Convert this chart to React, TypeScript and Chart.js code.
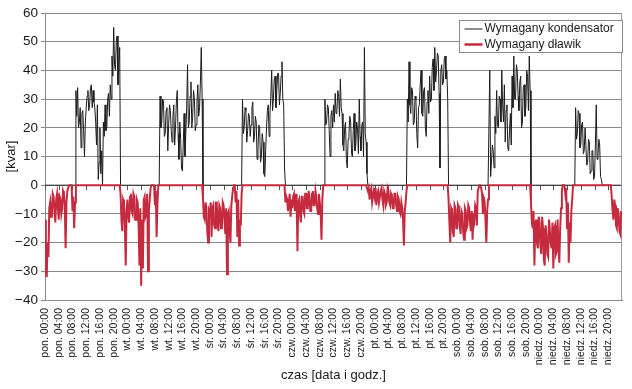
import React, { useEffect, useRef } from 'react';
import { Chart, registerables } from 'chart.js';

Chart.register(...registerables);

// ---- tick labels ----
const dni = ['pon.', 'wt.', 'śr.', 'czw.', 'pt.', 'sob.', 'niedz.'];
const godziny = ['00:00', '04:00', '08:00', '12:00', '16:00', '20:00'];
const etykietyOsiX = dni.flatMap((d) => godziny.map((g) => `${d} ${g}`));
const godzinyEtykiet = etykietyOsiX.map((_, i) => i * 4);
const yMin = -40;
const yMax = 60;
const yKrok = 10;

// ---- data: 15-minute samples, 96 per day (8 per row = 2 hours) [kvar] ----
const KROK_H = 0.25;

const kondensatorPon = [
  0, 0, 0, 0, 0, 0, 0, 0,
  0, 0, 0, 0, 0, 0, 0, 0,
  0, 0, 0, 0, 0, 0, 0, 0,
  0, 0, 0, 0, 0, 0, 0, 0,
  0, 0, 0, 0, 33, 24, 34, 20,
  22, 27, 13, 25, 26, 19, 10, 22,
  27, 31, 33, 26, 28, 34, 35, 27,
  33, 29, 27, 22, 14, 28, 2, 8,
  20, 4, 12, 0, 22, 17, 28, 19,
  20, 30, 32, 24, 35, 30, 45, 38,
  55, 42, 40, 50, 52, 35, 42, 48,
  0, 0, 0, 0, 0, 0, 0, 0,
];
const kondensatorWt = [
  0, 0, 0, 0, 0, 0, 0, 0,
  0, 0, 0, 0, 0, 0, 0, 0,
  0, 0, 0, 0, 0, 0, 0, 0,
  0, 0, 0, 0, 0, 0, 0, 0,
  0, 0, 0, 0, 0, 0, 31, 20,
  22, 30, 29, 17, 18, 26, 27, 12,
  21, 28, 26, 19, 15, 24, 28, 14,
  20, 29, 33, 18, 9, 22, 16, 6,
  5, 14, 25, 10, 18, 27, 42, 20,
  22, 31, 36, 20, 24, 33, 30, 19,
  21, 29, 35, 24, 27, 36, 48, 30,
  0, 0, 0, 0, 0, 0, 0, 0,
];
const kondensatorSr = [
  0, 0, 0, 0, 0, 0, 0, 0,
  0, 0, 0, 0, 0, 0, 0, 0,
  0, 0, 0, 0, 0, 0, 0, 0,
  0, 0, 0, 0, 0, 0, 0, 0,
  0, 0, 0, 0, 0, 0, 30, 18,
  20, 27, 26, 15, 19, 25, 24, 17,
  21, 27, 29, 15, 17, 24, 22, 9,
  12, 21, 20, 8, 10, 18, 15, 4,
  3, 12, 20, 26, 28, 17, 25, 31,
  40, 26, 30, 37, 38, 27, 33, 39,
  39, 28, 32, 38, 43, 30, 28, 6,
  0, 0, 0, 0, 0, 0, 0, 0,
];
const kondensatorCzw = [
  0, 0, 0, 0, 0, 0, 0, 0,
  0, 0, 0, 0, 0, 0, 0, 0,
  0, 0, 0, 0, 0, 0, 0, 0,
  0, 0, 0, 0, 0, 0, 0, 0,
  0, 0, 0, 0, 0, 0, 30, 21,
  22, 28, 27, 19, 10, 24, 26, 20,
  28, 22, 32, 25, 26, 33, 31, 24,
  37, 27, 25, 14, 12, 20, 22, 9,
  6, 16, 18, 24, 22, 11, 10, 19,
  25, 12, 14, 22, 20, 11, 30, 17,
  12, 21, 22, 10, 48, 18, 15, 4,
  0, 0, 0, 0, 0, 0, 0, 0,
];
const kondensatorPt = [
  0, 0, 0, 0, 0, 0, 0, 0,
  0, 0, 0, 0, 0, 0, 0, 0,
  0, 0, 0, 0, 0, 0, 0, 0,
  0, 0, 0, 0, 0, 0, 0, 0,
  0, 0, 0, 0, 0, 0, 30, 22,
  43, 28, 25, 34, 33, 21, 22, 31,
  30, 18, 13, 27, 28, 35, 40, 25,
  24, 33, 34, 20, 17, 29, 33, 25,
  38, 29, 30, 41, 44, 33, 48, 36,
  40, 46, 45, 32, 6, 40, 42, 35,
  36, 44, 45, 37, 40, 30, 0, 0,
  0, 0, 0, 0, 0, 0, 0, 0,
];
const kondensatorSob = [
  0, 0, 0, 0, 0, 0, 0, 0,
  0, 0, 0, 0, 0, 0, 0, 0,
  0, 0, 0, 0, 0, 0, 0, 0,
  0, 0, 0, 0, 0, 0, 0, 0,
  0, 0, 0, 0, 0, 0, 40, 3,
  8, 14, 12, 6, 24, 18, 33, 21,
  20, 31, 30, 22, 40, 28, 22, 35,
  15, 26, 28, 13, 12, 19, 25, 14,
  38, 27, 45, 30, 30, 42, 40, 31,
  26, 36, 38, 20, 22, 34, 35, 24,
  27, 40, 38, 26, 45, 33, 0, 0,
  0, 0, 0, 0, 0, 0, 0, 0,
];
const kondensatorNiedz = [
  0, 0, 0, 0, 0, 0, 0, 0,
  0, 0, 0, 0, 0, 0, 0, 0,
  0, 0, 0, 0, 0, 0, 0, 0,
  0, 0, 0, 0, 0, 0, 0, 0,
  0, 0, 0, 0, 0, 0, 0, 0,
  0, 0, 27, 16, 18, 26, 25, 13,
  14, 21, 22, 11, 12, 20, 20, 7,
  8, 16, 15, 4, 5, 12, 12, 2,
  3, 14, 28, 9, 10, 16, 14, 3,
  2, 0, 0, 0, 0, 0, 0, 0,
  0, 0, 0, 0, 0, 0, 0, 0,
  0, 0, 0, 0, 0, 0, 0, 0,
];

const dlawikPon = [
  -12, -30, -32, -20, -25, -8, -6, -11,
  -10, -3, -4, -9, -13, -5, -3, -8,
  -12, -4, -5, -10, -8, -2, -3, -7,
  -22, -6, -2, -1, 0, 0, 0, 0,
  -9, -4, -15, -6, 0, 0, 0, 0,
  0, 0, 0, 0, 0, 0, 0, 0,
  0, 0, 0, 0, 0, 0, 0, 0,
  0, 0, 0, 0, 0, 0, 0, 0,
  0, 0, 0, 0, 0, 0, 0, 0,
  0, 0, 0, 0, 0, 0, 0, 0,
  0, 0, 0, 0, 0, 0, 0, 0,
  -3, -12, -16, -5, -6, -14, -28, -9,
];
const dlawikWt = [
  -5, -11, -13, -4, -3, -9, -10, -3,
  -4, -12, -12, -5, -6, -14, -28, -8,
  -35, -12, -29, -5, -4, -11, -10, -3,
  -30, -9, -5, -1, 0, 0, 0, 0,
  -7, -2, -18, -6, 0, 0, 0, 0,
  0, 0, 0, 0, 0, 0, 0, 0,
  0, 0, 0, 0, 0, 0, 0, 0,
  0, 0, 0, 0, 0, 0, 0, 0,
  0, 0, 0, 0, 0, 0, 0, 0,
  0, 0, 0, 0, 0, 0, 0, 0,
  0, 0, 0, 0, 0, 0, 0, 0,
  -5, -11, -12, -6, -8, -16, -20, -9,
];
const dlawikSr = [
  -10, -6, -18, -8, -7, -14, -15, -6,
  -6, -13, -16, -7, -8, -15, -14, -6,
  -7, -12, -17, -8, -31, -10, -9, -16,
  -20, -7, -4, -1, 0, 0, -6, -2,
  -18, -5, -21, -12, -14, -3, 0, 0,
  0, 0, 0, 0, 0, 0, 0, 0,
  0, 0, 0, 0, 0, 0, 0, 0,
  0, 0, 0, 0, 0, 0, 0, 0,
  0, 0, 0, 0, 0, 0, 0, 0,
  0, 0, 0, 0, 0, 0, 0, 0,
  0, 0, 0, 0, 0, 0, 0, 0,
  -6, -4, -5, -9, -6, -3, -11, -5,
];
const dlawikCzw = [
  -8, -4, -3, -9, -7, -3, -23, -6,
  -5, -10, -13, -4, -4, -9, -10, -3,
  -3, -8, -8, -2, -4, -9, -9, -3,
  -2, -7, -7, -2, -4, -8, -10, -3,
  -6, -9, -19, -5, 0, 0, 0, 0,
  0, 0, 0, 0, 0, 0, 0, 0,
  0, 0, 0, 0, 0, 0, 0, 0,
  0, 0, 0, 0, 0, 0, 0, 0,
  0, 0, 0, 0, 0, 0, 0, 0,
  0, 0, 0, 0, 0, 0, 0, 0,
  0, 0, 0, 0, 0, 0, 0, 0,
  -2, -1, -5, -2, -1, -6, -6, -2,
];
const dlawikPt = [
  -4, -1, -7, -3, -2, -6, -6, -2,
  -1, -5, -7, -2, -3, -7, -6, -1,
  -2, -6, -7, -3, -4, -8, -8, -3,
  -3, -7, -9, -4, -5, -9, -10, -6,
  -8, -12, -21, -9, -6, -2, 0, 0,
  0, 0, 0, 0, 0, 0, 0, 0,
  0, 0, 0, 0, 0, 0, 0, 0,
  0, 0, 0, 0, 0, 0, 0, 0,
  0, 0, 0, 0, 0, 0, 0, 0,
  0, 0, 0, 0, 0, 0, 0, 0,
  0, 0, 0, 0, 0, 0, -5, -13,
  -20, -8, -9, -16, -18, -7, -8, -15,
];
const dlawikSob = [
  -15, -7, -8, -14, -17, -9, -10, -16,
  -19, -8, -9, -15, -14, -7, -8, -13,
  -16, -9, -19, -10, -12, -7, -8, -14,
  -2, -1, 0, 0, -1, -3, -10, -4,
  -6, -12, -20, -9, -5, 0, 0, 0,
  0, 0, 0, 0, 0, 0, 0, 0,
  0, 0, 0, 0, 0, 0, 0, 0,
  0, 0, 0, 0, 0, 0, 0, 0,
  0, 0, 0, 0, 0, 0, 0, 0,
  0, 0, 0, 0, 0, 0, 0, 0,
  0, 0, 0, 0, 0, 0, -6, -13,
  -15, -9, -28, -14, -12, -20, -22, -11,
];
const dlawikNiedz = [
  -13, -21, -24, -11, -15, -26, -28, -14,
  -17, -24, -25, -12, -12, -20, -22, -13,
  -29, -15, -14, -24, -23, -12, -22, -27,
  -15, -8, -2, 0, 0, 0, -3, -1,
  -15, -6, -27, -13, -20, -9, -5, 0,
  0, 0, 0, 0, 0, 0, 0, 0,
  0, 0, 0, 0, 0, 0, 0, 0,
  0, 0, 0, 0, 0, 0, 0, 0,
  0, 0, 0, 0, 0, 0, 0, 0,
  0, 0, 0, 0, 0, 0, 0, 0,
  0, 0, 0, 0, -4, -9, -12, -5,
  -7, -14, -15, -8, -10, -16, -17, -9,
];

const kondensator = [
  ...kondensatorPon, ...kondensatorWt, ...kondensatorSr, ...kondensatorCzw,
  ...kondensatorPt, ...kondensatorSob, ...kondensatorNiedz,
];
const dlawik = [
  ...dlawikPon, ...dlawikWt, ...dlawikSr, ...dlawikCzw,
  ...dlawikPt, ...dlawikSob, ...dlawikNiedz,
];

const nazwaKondensator = 'Wymagany kondensator';
const nazwaDlawik = 'Wymagany dławik';
const kolorKondensator = '#1c1c1c';
const kolorDlawik = '#c62a3e';
const FONT = "'Liberation Sans', Arial, sans-serif";

const dekoracje = {
  id: 'dekoracje',
  beforeDatasetsDraw(chart: any) {
    const { ctx, chartArea: a, scales } = chart;
    const y0 = scales.y.getPixelForValue(0);
    ctx.save();
    ctx.strokeStyle = '#9a9a9a';
    ctx.lineWidth = 1;
    ctx.beginPath();
    ctx.moveTo(Math.round(a.right) - 0.5, a.top);
    ctx.lineTo(Math.round(a.right) - 0.5, a.bottom);
    ctx.stroke();
    ctx.strokeStyle = '#555';
    godzinyEtykiet.forEach((h) => {
      const x = Math.round(scales.x.getPixelForValue(h)) + 0.5;
      ctx.beginPath();
      ctx.moveTo(x, y0);
      ctx.lineTo(x, y0 + 5);
      ctx.stroke();
    });
    ctx.restore();
  },
  afterDraw(chart: any) {
    const { ctx, chartArea: a } = chart;
    const w = 163;
    const h = 32;
    const x = Math.round(a.right) - w + 0.5;
    const y = Math.round(a.top) + 7.5;
    ctx.save();
    ctx.fillStyle = '#ffffff';
    ctx.fillRect(x, y, w, h);
    ctx.strokeStyle = '#8a8a8a';
    ctx.lineWidth = 1;
    ctx.strokeRect(x, y, w, h);
    ctx.font = `12px ${FONT}`;
    ctx.textBaseline = 'middle';
    ctx.fillStyle = '#1a1a1a';
    ctx.strokeStyle = kolorKondensator;
    ctx.lineWidth = 1;
    ctx.beginPath();
    ctx.moveTo(x + 5, y + 8.5);
    ctx.lineTo(x + 23, y + 8.5);
    ctx.stroke();
    ctx.fillText(nazwaKondensator, x + 25, y + 8.5);
    ctx.strokeStyle = kolorDlawik;
    ctx.lineWidth = 2.5;
    ctx.beginPath();
    ctx.moveTo(x + 5, y + 24);
    ctx.lineTo(x + 23, y + 24);
    ctx.stroke();
    ctx.fillText(nazwaDlawik, x + 25, y + 24);
    ctx.restore();
  },
};

export default function App() {
  const ref = useRef<HTMLCanvasElement | null>(null);

  useEffect(() => {
    if (!ref.current) return;
    const chart = new Chart(ref.current, {
      type: 'line',
      data: {
        datasets: [
          {
            label: nazwaKondensator,
            data: kondensator.map((v, i) => ({ x: i * KROK_H, y: v })),
            borderColor: kolorKondensator,
            borderWidth: 1,
            pointRadius: 0,
            tension: 0,
            order: 1,
          },
          {
            label: nazwaDlawik,
            data: dlawik.map((v, i) => ({ x: i * KROK_H, y: v })),
            borderColor: kolorDlawik,
            borderWidth: 2,
            pointRadius: 0,
            tension: 0,
            order: 0,
          },
        ],
      },
      options: {
        responsive: false,
        animation: false,
        layout: { padding: { left: 0, right: 10, top: 13, bottom: 0 } },
        plugins: {
          legend: { display: false },
          tooltip: { enabled: false },
        },
        scales: {
          x: {
            type: 'linear',
            min: 0,
            max: 168,
            afterBuildTicks: (s: any) => {
              s.ticks = godzinyEtykiet.map((v) => ({ value: v }));
            },
            afterFit: (s: any) => {
              s.height = 89;
            },
            ticks: {
              autoSkip: false,
              maxRotation: 90,
              minRotation: 90,
              padding: 8,
              color: '#1a1a1a',
              font: { family: FONT, size: 10.5 },
              callback: (v: any) => {
                const i = godzinyEtykiet.indexOf(Number(v));
                return i >= 0 ? etykietyOsiX[i] : '';
              },
            },
            grid: { display: false, drawTicks: false },
            border: { display: true, color: '#8a8a8a' },
            title: {
              display: true,
              text: 'czas [data i godz.]',
              color: '#1a1a1a',
              font: { family: FONT, size: 13 },
              padding: { top: 4, bottom: 6 },
            },
          },
          y: {
            min: yMin,
            max: yMax,
            afterFit: (s: any) => {
              s.width = 45;
            },
            ticks: {
              stepSize: yKrok,
              padding: 3,
              color: '#1a1a1a',
              font: { family: FONT, size: 13.5 },
              callback: (v: any) => (Number(v) < 0 ? '\u2212' + Math.abs(Number(v)) : String(v)),
            },
            grid: { color: '#8a8a8a', tickLength: 4, drawTicks: true },
            border: { display: true, color: '#8a8a8a' },
            title: {
              display: true,
              text: '[kvar]',
              color: '#1a1a1a',
              font: { family: FONT, size: 13 },
              padding: { top: 4, bottom: 4 },
            },
          },
        },
      },
      plugins: [dekoracje],
    });
    return () => chart.destroy();
  }, []);

  return (
    <div style={{ position: 'fixed', left: 0, top: 0, width: 632, height: 389, background: '#fff' }}>
      <canvas ref={ref} width={632} height={389} style={{ display: 'block' }} />
    </div>
  );
}
